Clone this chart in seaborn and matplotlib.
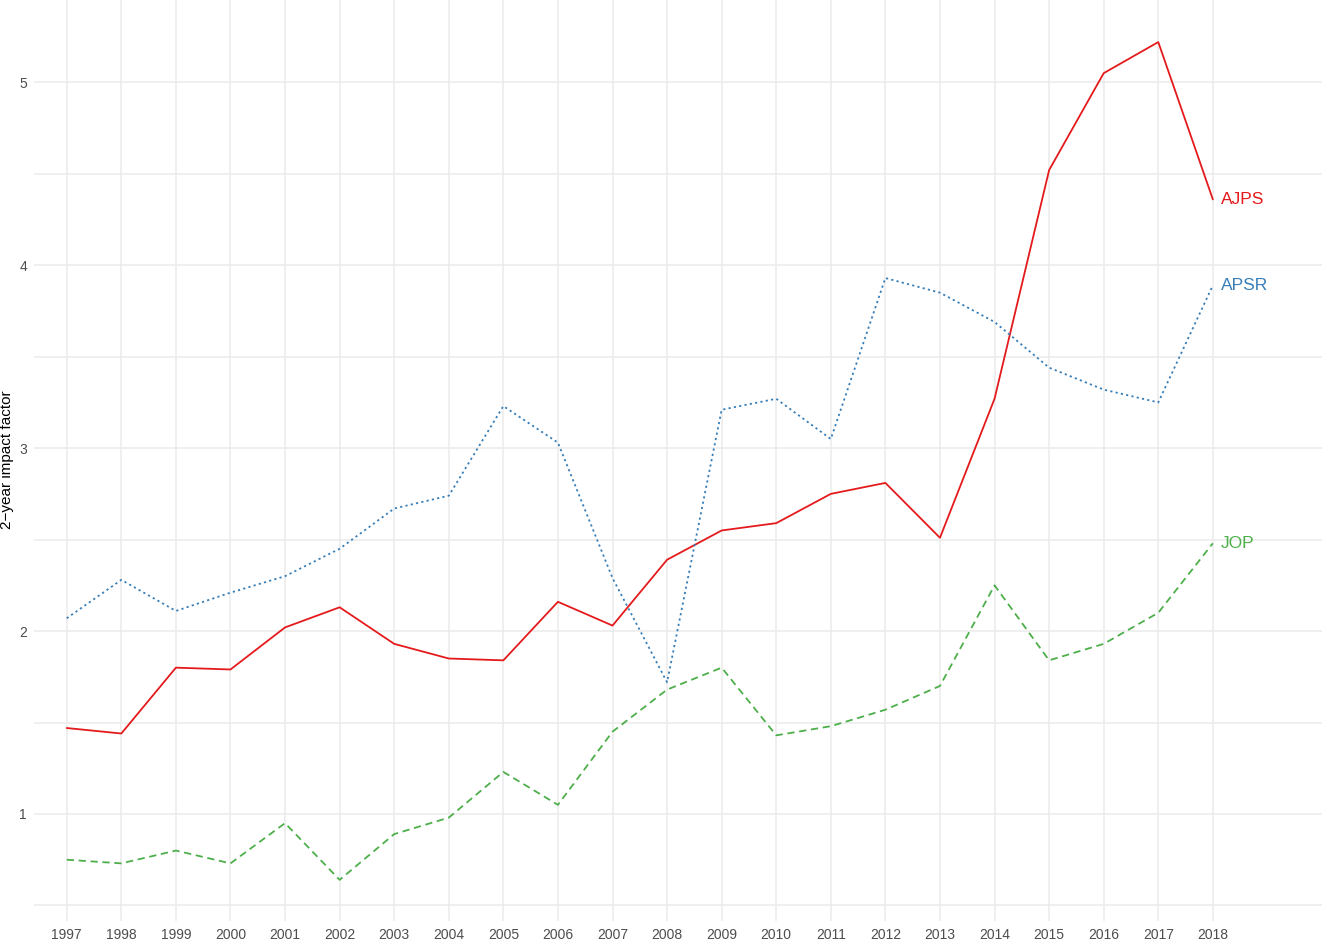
import numpy as np
import pandas as pd
import matplotlib
matplotlib.use("Agg")
import matplotlib.pyplot as plt
from matplotlib.ticker import MultipleLocator
import seaborn as sns

# data
years = list(range(1997, 2019))
ajps = [1.47, 1.44, 1.80, 1.79, 2.02, 2.13, 1.93, 1.85, 1.84, 2.16, 2.03,
        2.39, 2.55, 2.59, 2.75, 2.81, 2.51, 3.27, 4.52, 5.05, 5.22, 4.36]
apsr = [2.07, 2.28, 2.11, 2.21, 2.30, 2.45, 2.67, 2.74, 3.23, 3.03, 2.29,
        1.72, 3.21, 3.27, 3.05, 3.93, 3.85, 3.69, 3.44, 3.32, 3.25, 3.89]
jop = [0.75, 0.73, 0.80, 0.73, 0.95, 0.64, 0.89, 0.98, 1.23, 1.05, 1.45,
       1.68, 1.80, 1.43, 1.48, 1.57, 1.70, 2.25, 1.84, 1.93, 2.10, 2.48]
journals = ["AJPS", "APSR", "JOP"]
colors = {"AJPS": "#E41A1C", "APSR": "#377EB8", "JOP": "#4DAF4A"}

df = pd.DataFrame({
    "year": years * 3,
    "value": ajps + apsr + jop,
    "journal": [j for j in journals for _ in years],
})

sns.set_theme(style="whitegrid")
plt.rcParams["font.family"] = ["Liberation Sans", "DejaVu Sans"]

fig = plt.figure(figsize=(13.22, 9.41), dpi=100)
ax = fig.add_axes([34 / 1322, 20 / 941, 1 - 34 / 1322, 1 - 20 / 941])

sns.lineplot(data=df, x="year", y="value", hue="journal", style="journal",
             palette=colors,
             dashes={"AJPS": "", "APSR": (1.2, 1.8), "JOP": (4, 2.6)},
             linewidth=1.3, legend=False, ax=ax)

# labels at line ends
last = df[df["year"] == years[-1]]
for _, r in last.iterrows():
    ax.annotate(r["journal"], (r["year"], r["value"]), xytext=(6, 0),
                textcoords="offset points", va="center", ha="left",
                fontsize=12.5, color=colors[r["journal"]])

ax.set_xlim(1996.4, 2020.0)
ax.set_ylim(0.415, 5.45)
ax.set_xticks(years)
ax.yaxis.set_major_locator(MultipleLocator(1))
ax.yaxis.set_minor_locator(MultipleLocator(0.5))
ax.grid(which="both", color="#ebebeb", linewidth=1.1)
ax.set_axisbelow(True)
for s in ax.spines.values():
    s.set_visible(False)
ax.tick_params(axis="both", which="both", length=0, labelsize=10,
               labelcolor="#4d4d4d", pad=5)
ax.set_xlabel("")
ax.set_ylabel("")
fig.text(7 / 1322, 1 - 460 / 941, "2\u2212year impact factor", rotation=90,
         ha="center", va="center", fontsize=11, color="black")

fig.savefig("out.png", dpi=100)
